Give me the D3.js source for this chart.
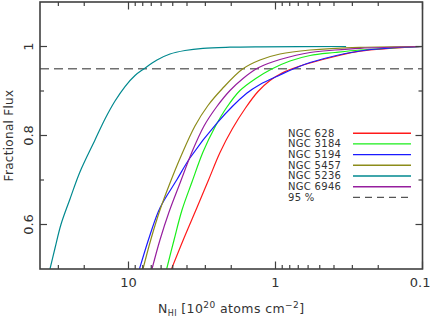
<!DOCTYPE html>
<html><head><meta charset="utf-8">
<script src="https://cdn.jsdelivr.net/npm/d3@7"></script>
<style>body{margin:0;background:#fff}svg{display:block}text{font-family:"DejaVu Sans",sans-serif;fill:#333}</style>
</head><body>
<script>
const galaxies = ["NGC 628","NGC 3184","NGC 5194","NGC 5457","NGC 5236","NGC 6946"];
const colors = ["#ff1a1a","#1aee1a","#1a1aff","#8c8c1a","#00898f","#961e9e"];
// N_HI threshold (10^20 cm^-2) and fractional flux above it
const n628  = [5.10,4.19,3.42,2.855,2.385,1.961,1.600,1.315,1.090,0.903,0.772,0.582,0.394,0.266,0.1];
const f628  = [0.50,0.5697,0.6382,0.70,0.7618,0.8157,0.8618,0.8989,0.9236,0.9404,0.9499,0.9629,0.9775,0.9894,1.0];
const n3184 = [5.50,4.90,4.325,3.70,3.113,2.58,2.138,1.744,1.379,1.061,0.797,0.582,0.394,0.266,0.1];
const f3184 = [0.50,0.5652,0.6326,0.6955,0.7629,0.8191,0.864,0.9011,0.927,0.9494,0.9674,0.9798,0.9865,0.9921,1.0];
const n5194 = [8.42,7.14,6.11,4.70,3.82,2.51,1.570,1.275,0.932,0.772,0.582,0.266,0.1];
const f5194 = [0.50,0.5764,0.6371,0.70,0.7494,0.8274,0.8948,0.9146,0.936,0.9483,0.964,0.9899,1.0];
const n5457 = [7.97,7.03,6.11,5.22,4.39,3.53,2.88,2.31,1.675,1.275,0.932,0.582,0.266,0.1];
const f5457 = [0.50,0.5674,0.6326,0.6933,0.7539,0.8213,0.8674,0.9045,0.9494,0.9697,0.9831,0.9921,0.9982,1.0];
const n5236 = [34.2,31.6,28.8,25.0,21.4,16.9,14.45,12.35,10.56,9.03,7.84,6.40,5.22,4.13,3.113,2.04,1.275,0.331];
const f5236 = [0.50,0.5472,0.60,0.6573,0.718,0.7899,0.8371,0.8775,0.9101,0.9348,0.95,0.9697,0.9831,0.991,0.996,0.9984,0.9993,1.0];
const n6946 = [6.92,6.11,5.30,4.46,3.70,3.064,2.52,2.04,1.663,1.357,1.124,0.932,0.582,0.394,0.266,0.1];
const f6946 = [0.50,0.5652,0.6281,0.6933,0.7629,0.8213,0.864,0.9011,0.9281,0.9494,0.9618,0.9708,0.9865,0.9921,0.996,1.0];
const xTickLabels = ["10","1","0.1"];
const yTickLabels = ["1","0.8","0.6"];
const level95 = 0.95;

const seriesN = [n628,n3184,n5194,n5457,n5236,n6946];
const seriesF = [f628,f3184,f5194,f5457,f5236,f6946];

const W=430,H=319, L=40, R=422.5, T=2, B=269;
const svg=d3.select("body").append("svg").attr("width",W).attr("height",H);
const x=d3.scaleLog().domain([Math.pow(10,1.602),0.1]).range([L,R]);
const y=d3.scaleLinear().domain([0.5,1.1]).range([B,T]);

svg.append("clipPath").attr("id","clip").append("rect").attr("x",L).attr("y",T).attr("width",R-L).attr("height",B-T);

// dashed 95% line
svg.append("line").attr("x1",L).attr("x2",R).attr("y1",y(level95)).attr("y2",y(level95))
  .attr("stroke","#707070").attr("stroke-width",1.5).attr("stroke-dasharray","9,5");

const line=d3.line().x(d=>x(d[0])).y(d=>y(d[1])).curve(d3.curveCatmullRom.alpha(0.5));
const g=svg.append("g").attr("clip-path","url(#clip)");
seriesN.forEach((ns,i)=>{
  const pts=ns.map((n,j)=>[n,seriesF[i][j]]);
  g.append("path").attr("d",line(pts)).attr("fill","none").attr("stroke",colors[i]).attr("stroke-width",1.2);
});

// frame
const axisCol="#404040";
svg.append("rect").attr("x",L).attr("y",T).attr("width",R-L).attr("height",B-T).attr("fill","none").attr("stroke",axisCol).attr("stroke-width",1.6);

// x ticks
const majorX=[10,1,0.1];
const minorX=[];
[0.1,1,10].forEach(d=>{for(let k=2;k<=9;k++){const v=d*k; if(v<Math.pow(10,1.602)) minorX.push(v);}});
const tk=svg.append("g").attr("stroke",axisCol).attr("stroke-width",1.2);
majorX.forEach(v=>{tk.append("line").attr("x1",x(v)).attr("x2",x(v)).attr("y1",B).attr("y2",B-7.5);
  tk.append("line").attr("x1",x(v)).attr("x2",x(v)).attr("y1",T).attr("y2",T+7.5);});
minorX.forEach(v=>{if(x(v)>=L&&x(v)<=R){tk.append("line").attr("x1",x(v)).attr("x2",x(v)).attr("y1",B).attr("y2",B-4);
  tk.append("line").attr("x1",x(v)).attr("x2",x(v)).attr("y1",T).attr("y2",T+4);}});
// y ticks
[1,0.8,0.6].forEach(v=>{tk.append("line").attr("x1",L).attr("x2",L+7).attr("y1",y(v)).attr("y2",y(v));
  tk.append("line").attr("x1",R).attr("x2",R-7).attr("y1",y(v)).attr("y2",y(v));});
[0.9,0.7].forEach(v=>{tk.append("line").attr("x1",L).attr("x2",L+4).attr("y1",y(v)).attr("y2",y(v));
  tk.append("line").attr("x1",R).attr("x2",R-4).attr("y1",y(v)).attr("y2",y(v));});

// tick labels
majorX.forEach((v,i)=>{svg.append("text").attr("x",x(v)).attr("y",287).attr("text-anchor",i==2?"end":"middle")
  .attr("dx",i==2?8:0).style("font-size","13px").text(xTickLabels[i]);});
[1,0.8,0.6].forEach((v,i)=>{svg.append("text").attr("transform",`translate(33,${y(v)}) rotate(-90)`)
  .attr("text-anchor","middle").style("font-size","13px").text(yTickLabels[i]);});

// axis labels
svg.append("text").attr("transform",`translate(13,135.5) rotate(-90)`).attr("text-anchor","middle")
  .style("font-size","12px").style("letter-spacing","0.3px").text("Fractional Flux");
const xl=svg.append("text").attr("x",158).attr("y",313).style("font-size","12.5px").style("letter-spacing","0.4px");
xl.append("tspan").text("N");
xl.append("tspan").attr("dy",3).style("font-size","8px").text("HI");
xl.append("tspan").attr("dy",-3).text(" [10");
xl.append("tspan").attr("dy",-5).style("font-size","9px").text("20");
xl.append("tspan").attr("dy",5).text(" atoms cm");
xl.append("tspan").attr("dy",-5).style("font-size","9px").text("\u22122");
xl.append("tspan").attr("dy",5).text("]");

// legend
const legLabels=galaxies.concat(["95 %"]);
legLabels.forEach((t,i)=>{
  const by=136.5+i*10.7;
  svg.append("text").attr("x",288).attr("y",by).style("font-size","10px").style("letter-spacing","0.3px").text(t);
  const ln=svg.append("line").attr("x1",353).attr("x2",411).attr("y1",by-3.3).attr("y2",by-3.3).attr("stroke-width",1.4);
  if(i<6) ln.attr("stroke",colors[i]); else ln.attr("stroke","#555").attr("stroke-dasharray","7,5");
});
</script>
</body></html>
